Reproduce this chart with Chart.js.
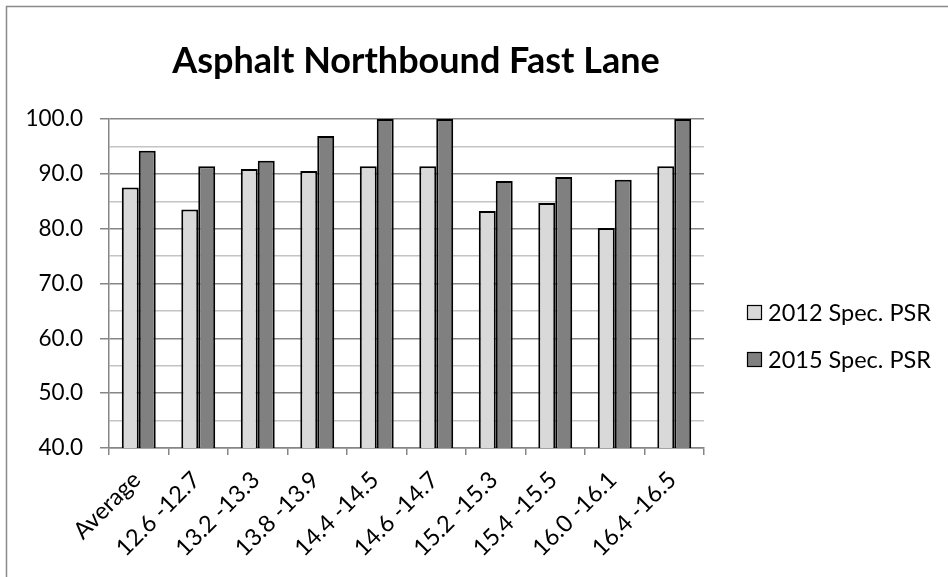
<!DOCTYPE html>
<html>
<head>
<meta charset="utf-8">
<script src="https://cdn.jsdelivr.net/npm/chart.js@4"></script>
<style>
  html, body { margin: 0; padding: 0; background: #ffffff; }
  #wrap { width: 948px; height: 577px; position: relative; }
</style>
</head>
<body>
<div id="wrap"><canvas id="chart" width="948" height="577"></canvas></div>
<script>
// Segments along the northbound fast lane (mile posts)
const categories = ['Average', '12.6 -12.7', '13.2 -13.3', '13.8 -13.9', '14.4 -14.5',
  '14.6 -14.7', '15.2 -15.3', '15.4 -15.5', '16.0 -16.1', '16.4 -16.5'];
const psr2012 = [87.5, 83.5, 90.9, 90.5, 91.4, 91.4, 83.2, 84.7, 80.1, 91.4];
const psr2015 = [94.2, 91.4, 92.4, 96.9, 100.0, 100.0, 88.7, 89.4, 88.9, 100.0];
const seriesNames = ['2012 Spec. PSR', '2015 Spec. PSR'];
const yTicks = { min: 40, max: 100, step: 5 };

const FONT = 'Lato, "Open Sans", sans-serif';
const MAJOR = '#868686';
const MINOR = '#c4c4c4';

// Frame, title and legend drawn on top of the chart
const decor = {
  id: 'decor',
  afterDraw(chart) {
    const ctx = chart.ctx;
    ctx.save();
    // outer frame
    ctx.strokeStyle = '#8a8a8a';
    ctx.lineWidth = 1.5;
    ctx.beginPath();
    ctx.moveTo(6.5, 577);
    ctx.lineTo(6.5, 6.5);
    ctx.lineTo(948, 6.5);
    ctx.stroke();
    // title
    ctx.fillStyle = '#000000';
    ctx.font = 'bold 36px ' + FONT;
    ctx.textAlign = 'center';
    ctx.textBaseline = 'alphabetic';
    ctx.fillText('Asphalt Northbound Fast Lane', 416, 73);
    // legend
    ctx.font = '23.5px ' + FONT;
    ctx.textAlign = 'left';
    ctx.textBaseline = 'middle';
    chart.data.datasets.forEach((ds, i) => {
      const y = 312 + i * 47;
      ctx.fillStyle = ds.backgroundColor;
      ctx.fillRect(747, y - 7, 14, 14);
      ctx.strokeStyle = '#000000';
      ctx.lineWidth = 1.2;
      ctx.strokeRect(747.5, y - 6.5, 14, 14);
      ctx.fillStyle = '#000000';
      ctx.fillText(ds.label, 768, y + 1);
    });
    ctx.restore();
  }
};

new Chart(document.getElementById('chart'), {
  type: 'bar',
  data: {
    labels: categories,
    datasets: [
      { label: seriesNames[0], data: psr2012, backgroundColor: '#d9d9d9',
        borderColor: '#000000', borderWidth: 2, borderSkipped: 'bottom' },
      { label: seriesNames[1], data: psr2015, backgroundColor: '#808080',
        borderColor: '#000000', borderWidth: 2, borderSkipped: 'bottom' }
    ]
  },
  options: {
    responsive: false,
    animation: false,
    events: [],
    layout: { padding: { top: 119, right: 244, left: 0, bottom: 0 } },
    datasets: { bar: { categoryPercentage: 0.57, barPercentage: 1.0 } },
    plugins: {
      legend: { display: false },
      title: { display: false },
      tooltip: { enabled: false }
    },
    scales: {
      x: {
        offset: true,
        afterFit(scale) { scale.height = 129; },
        grid: { offset: true, drawOnChartArea: false, color: MAJOR, tickLength: 7, lineWidth: 1.5 },
        border: { color: MAJOR, width: 1.5 },
        ticks: {
          color: '#000000',
          font: { family: FONT, size: 23.5 },
          maxRotation: 45, minRotation: 45,
          autoSkip: false,
          padding: 11,
          labelOffset: -2
        }
      },
      y: {
        min: yTicks.min, max: yTicks.max,
        afterFit(scale) { scale.width = 109; },
        grid: {
          color: (c) => (c.tick && c.tick.value % 10 === 0) ? MAJOR : MINOR,
          tickColor: (c) => (c.tick && c.tick.value % 10 === 0) ? MAJOR : 'rgba(0,0,0,0)',
          lineWidth: 1.5,
          tickLength: 9
        },
        border: { color: MAJOR, width: 1.5 },
        ticks: {
          stepSize: yTicks.step,
          maxTicksLimit: 20,
          autoSkip: false,
          color: '#000000',
          font: { family: FONT, size: 22.5 },
          padding: 17,
          callback: (v) => (v % 10 === 0) ? v.toFixed(1) : ''
        }
      }
    }
  },
  plugins: [decor]
});
</script>
</body>
</html>
